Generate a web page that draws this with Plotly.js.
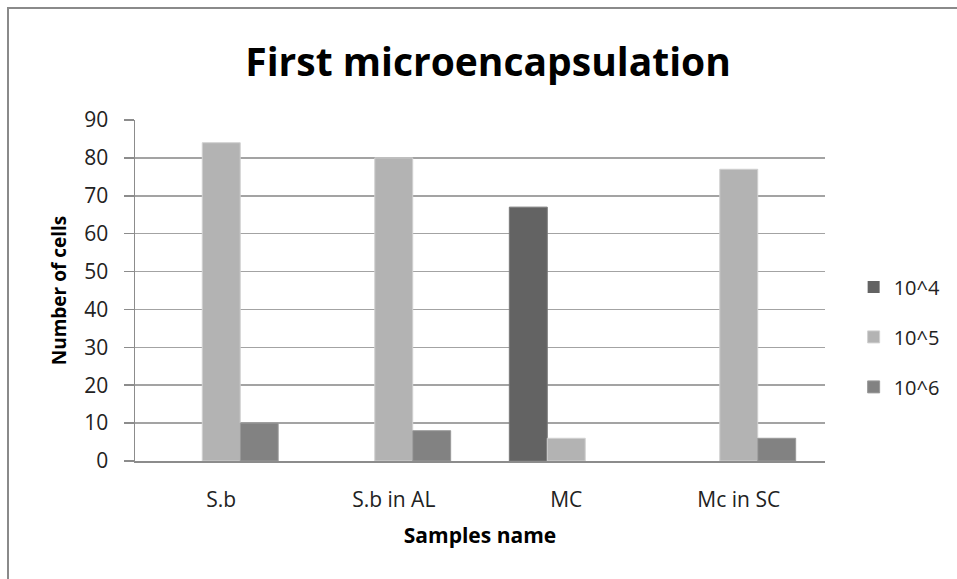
<!DOCTYPE html>
<html>
<head>
<meta charset="utf-8">
<script src="https://cdn.plot.ly/plotly-3.0.1.min.js"></script>
<style>
  html, body { margin: 0; padding: 0; background: #fff; }
  #wrap { position: relative; width: 957px; height: 579px; overflow: hidden; }
  #chart { width: 957px; height: 579px; }
  #frame { position: absolute; left: 7px; top: 7px; width: 960px; height: 600px;
           border-left: 2px solid #8a8a8a; border-top: 2px solid #8a8a8a; pointer-events: none; }
</style>
</head>
<body>
<div id="wrap">
  <div id="chart"></div>
  <div id="frame"></div>
</div>
<script>
const categories = ["S.b", "S.b in AL", "MC", "Mc in SC"];
const seriesNames = ["10^4", "10^5", "10^6"];
const values_1e4 = [0, 0, 67, 0];
const values_1e5 = [84, 80, 6, 77];
const values_1e6 = [10, 8, 0, 6];
const tickValues = [0, 10, 20, 30, 40, 50, 60, 70, 80, 90];

const colors = ["#636363", "#b3b3b3", "#828282"];
const lineColors = ["#7a7a7a", "#d0d0d0", "#9a9a9a"];
const allValues = [values_1e4, values_1e5, values_1e6];

const traces = allValues.map((v, i) => ({
  type: "bar",
  name: seriesNames[i],
  x: categories,
  y: v,
  legendgroup: "g" + i,
  marker: { color: colors[i], line: { color: lineColors[i], width: v.map(d => d ? 1 : 0) } },
  hoverinfo: "x+y+name"
}));

const font = "'Open Sans', Lato, sans-serif";

const layout = {
  width: 957,
  height: 579,
  margin: { l: 135, r: 131, t: 120, b: 118 },
  paper_bgcolor: "#ffffff",
  plot_bgcolor: "#ffffff",
  barmode: "group",
  bargap: 0.34,
  bargroupgap: 0,
  title: {
    text: "<b>First microencapsulation</b>",
    font: { family: font, size: 39, color: "#000" },
    x: 0.51, xanchor: "center",
    y: 0.893, yanchor: "middle"
  },
  xaxis: {
    type: "category",
    showgrid: false,
    showline: true,
    linecolor: "#8c8c8c",
    linewidth: 1.5,
    ticks: "",
    ticklabelstandoff: 19,
    tickfont: { family: font, size: 21, color: "#222" },
    title: { text: "<b>Samples name</b>", font: { family: font, size: 21, color: "#000" }, standoff: 16 },
    automargin: false
  },
  yaxis: {
    range: [0, 90],
    tickvals: tickValues,
    ticktext: tickValues.map(String),
    showgrid: true,
    gridcolor: "#a3a3a3",
    gridwidth: 1.5,
    zeroline: false,
    showline: true,
    linecolor: "#8c8c8c",
    linewidth: 1.5,
    ticks: "outside",
    ticklen: 10,
    tickcolor: "#8c8c8c",
    tickwidth: 1.5,
    ticklabelstandoff: 11,
    tickfont: { family: font, size: 21, color: "#222" },
    title: { text: "<b>Number of cells</b>", font: { family: font, size: 19, color: "#000" }, standoff: 12 },
    automargin: false
  },
  legend: {
    x: 1.04, xanchor: "left",
    y: 0.364, yanchor: "middle",
    font: { family: font, size: 20, color: "#222" },
    tracegroupgap: 21,
    traceorder: "grouped",
    bgcolor: "rgba(0,0,0,0)"
  },
  showlegend: true
};

Plotly.newPlot("chart", traces, layout, { displayModeBar: false, staticPlot: true });
</script>
</body>
</html>
